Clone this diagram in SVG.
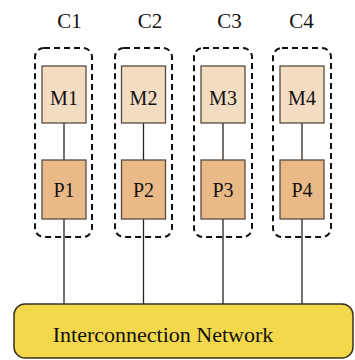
<svg xmlns="http://www.w3.org/2000/svg" width="355" height="360" viewBox="0 0 355 360">
<style>
text{font-family:'Liberation Serif','DejaVu Serif',serif;fill:#141010;text-anchor:middle}
.cl{font-size:21px}
.nl{font-size:20px}
.mem{fill:#f2dcc2;stroke:#5a4a3e;stroke-width:1.3}
.proc{fill:#e9b987;stroke:#5a4a3e;stroke-width:1.3}
.core{fill:none;stroke:#111;stroke-width:2;stroke-dasharray:6 4}
.wire{stroke:#2a2420;stroke-width:1.3;fill:none}
</style>
<rect width="355" height="360" fill="#ffffff"/>
<g id="connectors">
<path class="wire" d="M64 123V160M64 219V304"/>
<path class="wire" d="M143.5 123V160M143.5 219V304"/>
<path class="wire" d="M223 123V160M223 219V304"/>
<path class="wire" d="M302 123V160M302 219V304"/>
</g>
<g id="C1">
<rect class="core" x="35" y="48" width="57" height="189" rx="9"/>
<text class="cl" x="69.5" y="28">C1</text>
</g>
<g id="C2">
<rect class="core" x="115" y="48" width="57" height="189" rx="9"/>
<text class="cl" x="150" y="28">C2</text>
</g>
<g id="C3">
<rect class="core" x="194" y="48" width="58" height="189" rx="9"/>
<text class="cl" x="229.5" y="28">C3</text>
</g>
<g id="C4">
<rect class="core" x="273" y="48" width="58" height="189" rx="9"/>
<text class="cl" x="301.5" y="28">C4</text>
</g>
<g id="M1"><rect class="mem" x="42" y="66" width="44" height="57"/><text class="nl" x="64" y="105">M1</text></g>
<g id="M2"><rect class="mem" x="121.5" y="66" width="44" height="57"/><text class="nl" x="143.5" y="105">M2</text></g>
<g id="M3"><rect class="mem" x="201" y="66" width="44" height="57"/><text class="nl" x="223" y="105">M3</text></g>
<g id="M4"><rect class="mem" x="280" y="66" width="44" height="57"/><text class="nl" x="302" y="105">M4</text></g>
<g id="P1"><rect class="proc" x="42" y="160" width="44" height="59"/><text class="nl" x="64" y="197">P1</text></g>
<g id="P2"><rect class="proc" x="121.5" y="160" width="44" height="59"/><text class="nl" x="143.5" y="197">P2</text></g>
<g id="P3"><rect class="proc" x="201" y="160" width="44" height="59"/><text class="nl" x="223" y="197">P3</text></g>
<g id="P4"><rect class="proc" x="280" y="160" width="44" height="59"/><text class="nl" x="302" y="197">P4</text></g>
<g id="network">
<rect x="14" y="304" width="339" height="54" rx="11" fill="#f2d84a" stroke="#3a3020" stroke-width="1.5"/>
<text x="163" y="342" font-size="22">Interconnection Network</text>
</g>
</svg>
